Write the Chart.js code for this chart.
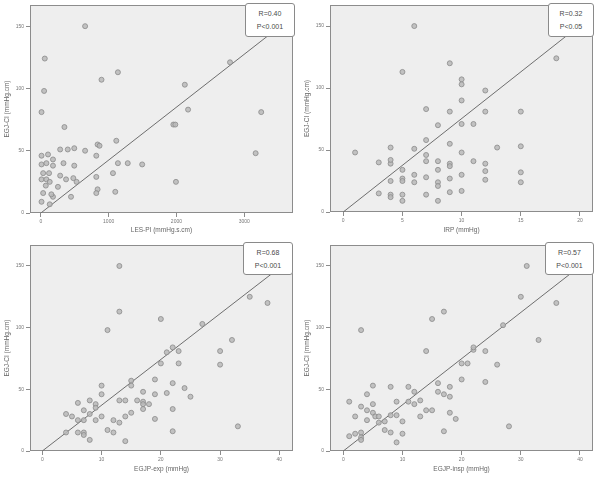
<!DOCTYPE html>
<html>
<head>
<meta charset="utf-8">
<script src="https://cdn.jsdelivr.net/npm/chart.js@4"></script>
<style>
  body { margin: 0; background: #fff; }
  #wrap { position: relative; width: 600px; height: 478px; }
  .panel { position: absolute; }
  .note {
    position: absolute; background: #fff; border: 1px solid #8a8a8a; border-radius: 3px;
    font: 7px "Liberation Sans", Arial, sans-serif; color: #4a4a4a; text-align: center;
    line-height: 13px; padding-top: 3px; box-sizing: border-box;
  }
</style>
</head>
<body>
<div id="wrap">
  <div class="panel" style="left:0;top:0"><canvas id="c1" width="300" height="239"></canvas></div>
  <div class="panel" style="left:300px;top:0"><canvas id="c2" width="300" height="239"></canvas></div>
  <div class="panel" style="left:0;top:240px"><canvas id="c3" width="300" height="238"></canvas></div>
  <div class="panel" style="left:300px;top:240px"><canvas id="c4" width="300" height="238"></canvas></div>
  <div class="note" style="left:245px;top:3px;width:50px;height:34px">R=0.40<br>P&lt;0.001</div>
  <div class="note" style="left:548px;top:3px;width:46px;height:34px">R=0.32<br>P&lt;0.05</div>
  <div class="note" style="left:243px;top:242px;width:50px;height:33px">R=0.68<br>P&lt;0.001</div>
  <div class="note" style="left:545px;top:242px;width:49px;height:33px">R=0.57<br>P&lt;0.001</div>
</div>
<script>
// y ticks shared by all four panels
const ciTicks = [0, 50, 100, 150];

// LES-PI vs EGJ-CI
const lesPi = [653, 58, 1137, 895, 48, 2124, 2791, 2172, 10, 3251, 348, 1955, 1984, 3169, 1993, 285, 397, 493, 653, 837,
  866, 1113, 818, 1137, 1282, 1495, 1064, 818, 837, 818, 1098, 527, 479, 493, 334, 285, 252, 445, 179, 155,
  10, 106, 10, 82, 179, 179, 34, 121, 10, 82, 131, 73, 34, 10, 131, 372];
const ciA = [150, 124, 113, 107, 98, 103, 121, 83, 81, 81, 69, 71, 71, 48, 25, 51, 51, 52, 50, 55,
  54, 58, 46, 40, 40, 39, 32, 29, 19, 16, 17, 25, 28, 38, 40, 30, 21, 13, 13, 15,
  46, 47, 39, 40, 38, 43, 32, 32, 27, 27, 25, 22, 16, 9, 7, 27];
const lesPiTicks = [0, 1000, 2000, 3000];
const fitA = [[0, 0], [3720, 158]];

// IRP vs EGJ-CI
const irp = [6, 9, 5, 10, 10, 18, 12, 10, 7, 9, 12, 15, 8, 10, 11, 7, 9, 4, 6, 1,
  13, 15, 10, 7, 3, 4, 4, 7, 8, 9, 9, 11, 12, 12, 15, 5, 8, 6, 10, 5,
  7, 9, 5, 4, 6, 8, 8, 12, 15, 3, 4, 4, 5, 7, 9, 10, 5, 8];
const ciB = [150, 120, 113, 107, 103, 124, 98, 90, 83, 81, 81, 81, 70, 71, 71, 58, 55, 52, 51, 48,
  52, 53, 48, 46, 40, 39, 42, 41, 41, 39, 37, 41, 39, 33, 32, 34, 34, 30, 30, 27,
  28, 27, 25, 25, 24, 24, 21, 26, 24, 15, 14, 12, 14, 14, 16, 17, 9, 9];
const irpTicks = [0, 5, 10, 15, 20];
const fitB = [[0, 0], [21.1, 159]];

// EGJP-exp vs EGJ-CI
const egjpExp = [13, 13, 20, 11, 35, 38, 27, 32, 21, 22, 23, 30, 20, 23, 30, 15, 15, 19, 22, 24,
  25, 10, 10, 17, 19, 21, 6, 8, 9, 9, 13, 14, 16, 17, 17, 18, 7, 8, 4, 5,
  6, 7, 9, 10, 17, 15, 14, 22, 19, 12, 13, 11, 12, 4, 6, 7, 7, 8, 14, 22, 33];
const ciC = [150, 113, 107, 98, 125, 120, 103, 90, 80, 84, 81, 81, 71, 71, 70, 57, 53, 58, 55, 51,
  44, 53, 46, 48, 46, 47, 39, 41, 38, 35, 41, 41, 41, 40, 38, 38, 33, 30, 30, 28,
  25, 25, 25, 28, 34, 31, 28, 34, 26, 25, 23, 17, 15, 15, 15, 15, 13, 9, 8, 16, 20];
const egjpExpTicks = [0, 10, 20, 30, 40];
const fitC = [[0, 0], [42.3, 157]];

// EGJP-insp vs EGJ-CI
const egjpInsp = [31, 30, 36, 17, 15, 3, 27, 33, 22, 22, 14, 24, 20, 21, 26, 20, 24, 16, 18, 5,
  8, 11, 12, 4, 16, 17, 18, 1, 5, 9, 11, 12, 13, 3, 4, 5, 14, 15, 18, 2,
  5.4, 6, 8, 9, 13, 4, 6, 7, 10, 19, 7, 8, 10, 1, 2, 3, 3, 3, 9, 17, 28];
const ciD = [150, 125, 120, 113, 107, 98, 102, 90, 82, 84, 81, 81, 71, 71, 70, 58, 56, 55, 52, 53,
  52, 52, 48, 46, 48, 46, 44, 40, 38, 40, 40, 38, 41, 36, 33, 31, 33, 33, 31, 28,
  28, 28, 29, 29, 28, 25, 23, 24, 24, 26, 17, 15, 14, 12, 14, 15, 11, 9, 7, 16, 20];
const egjpInspTicks = [0, 10, 20, 30, 40];
const fitD = [[0, 0], [42.2, 158]];

const plotBox = {
  id: 'plotBox',
  beforeDatasetsDraw(chart) {
    const a = chart.chartArea, ctx = chart.ctx;
    ctx.save();
    ctx.fillStyle = '#eeeeee';
    ctx.fillRect(a.left, a.top, a.right - a.left, a.bottom - a.top);
    ctx.strokeStyle = '#8c8c8c';
    ctx.lineWidth = 1;
    ctx.strokeRect(a.left + 0.5, a.top + 0.5, a.right - a.left - 1, a.bottom - a.top - 1);
    ctx.restore();
  }
};

function makeChart(id, xs, ys, fit, xTicks, xMin, xMax, xTitle, bottomPad) {
  const pts = xs.map((x, i) => ({ x: x, y: ys[i] }));
  const tickFont = { family: 'Liberation Sans', size: 5 };
  new Chart(document.getElementById(id), {
    type: 'scatter',
    data: {
      datasets: [{
        data: pts,
        pointRadius: 2.5,
        pointBackgroundColor: 'rgba(185,185,185,0.85)',
        pointBorderColor: '#8a8a8a',
        pointBorderWidth: 0.8
      }, {
        type: 'line',
        data: fit.map(p => ({ x: p[0], y: p[1] })),
        borderColor: '#6e6e6e',
        borderWidth: 1,
        pointRadius: 0,
        fill: false
      }]
    },
    options: {
      responsive: false,
      animation: false,
      layout: { padding: { left: 0, top: 5, right: 7, bottom: 0 } },
      plugins: { legend: { display: false }, tooltip: { enabled: false } },
      scales: {
        x: {
          type: 'linear', min: xMin, max: xMax,
          afterBuildTicks: s => { s.ticks = xTicks.map(v => ({ value: v })); },
          afterFit: s => { s.height = bottomPad; },
          grid: { drawOnChartArea: false, tickLength: 4, color: '#8c8c8c' },
          border: { display: false },
          ticks: { font: tickFont, color: '#777', padding: 2, maxRotation: 0, callback: v => String(v) },
          title: { display: true, text: xTitle, font: { family: 'Liberation Sans', size: 6.5 }, color: '#666', padding: { top: 2, bottom: 5 } }
        },
        y: {
          min: 0, max: 167,
          afterBuildTicks: s => { s.ticks = ciTicks.map(v => ({ value: v })); },
          afterFit: s => { s.width = 30; },
          grid: { drawOnChartArea: false, tickLength: 4, color: '#8c8c8c' },
          border: { display: false },
          ticks: { font: tickFont, color: '#777', padding: 2, callback: v => String(v) },
          title: { display: true, text: 'EGJ-CI (mmHg.cm)', font: { family: 'Liberation Sans', size: 6.5 }, color: '#666', padding: { top: 3, bottom: 2 } }
        }
      }
    },
    plugins: [plotBox]
  });
}

makeChart('c1', lesPi, ciA, fitA, lesPiTicks, -160, 3720, 'LES-PI (mmHg.s.cm)', 26);
makeChart('c2', irp, ciB, fitB, irpTicks, -1.12, 21.1, 'IRP (mmHg)', 27);
makeChart('c3', egjpExp, ciC, fitC, egjpExpTicks, -2.08, 42.3, 'EGJP-exp (mmHg)', 27);
makeChart('c4', egjpInsp, ciD, fitD, egjpInspTicks, -2.25, 42.2, 'EGJP-insp (mmHg)', 27);
</script>
</body>
</html>
